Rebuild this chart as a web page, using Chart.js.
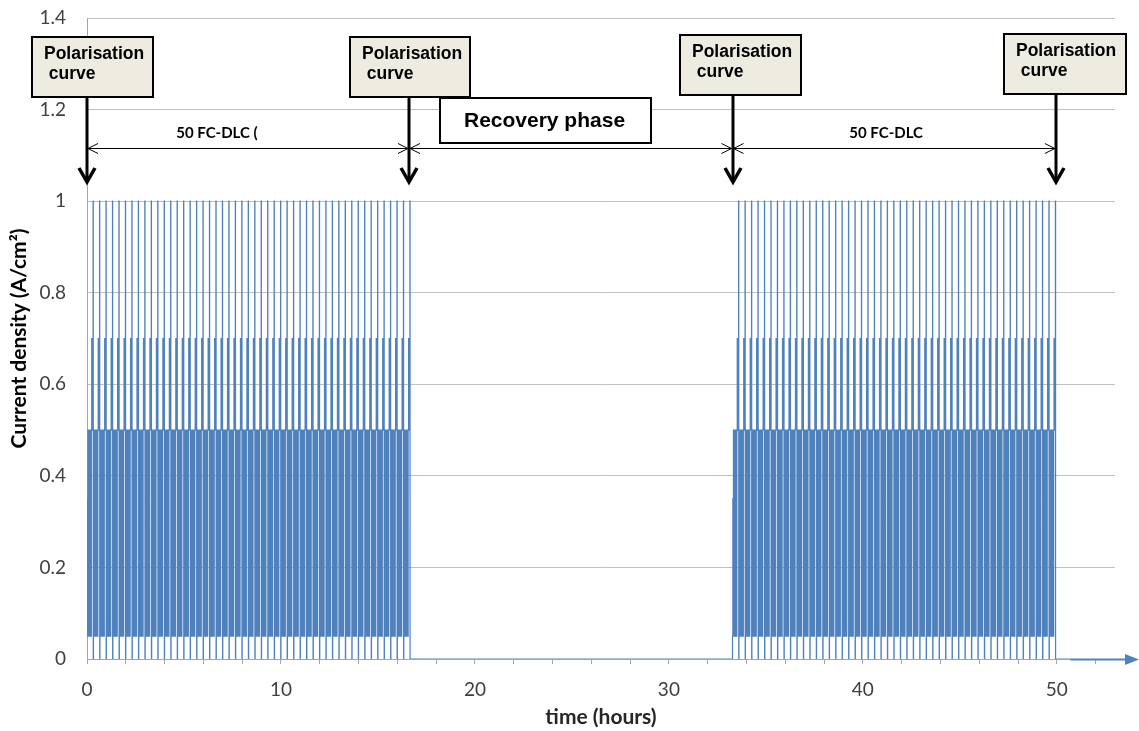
<!DOCTYPE html>
<html>
<head>
<meta charset="utf-8">
<script src="https://cdn.jsdelivr.net/npm/chart.js@4/dist/chart.umd.min.js"></script>
<style>
  html, body { margin: 0; padding: 0; background: #ffffff; }
  #c { display: block; }
</style>
</head>
<body>
<canvas id="c" width="1139" height="731"></canvas>
<script>
// ---------------- data ----------------
// One FC-DLC load cycle (20 min): step durations (s) and current density levels (A/cm2)
const cycleStepSeconds = [60, 50, 60, 40, 60, 50, 60, 40, 60, 50, 60, 40, 60, 50, 70, 70, 90, 40, 120, 30, 30];
const cycleStepLevels  = [0.05, 0.35, 0.05, 0.5, 0.05, 0.5, 0.05, 0.3, 0.05, 0.5, 0.05, 0.5, 0.05, 0.35, 0.05, 0.5, 0.7, 0.5, 0.7, 1.0, 0];
const cycleHours = 1 / 3;
const cyclesPerBlock = 50;
const blockStartHours = [0, 33.28];          // start of the two FC-DLC blocks
const tailEndHours = 50.7;                   // OCV after last block
const markerHours = [0, 16.6, 33.28, 49.95]; // polarisation curves
const phaseLabels = ['50 FC-DLC (', 'Recovery phase', '50 FC-DLC'];
const boxLabel = ['Polarisation', ' curve'];
const xLabelEvery = 10;
const xTickStep = 2;
const yTickStep = 0.2;

// ---------------- build points ----------------
const points = [];
blockStartHours.forEach((start) => {
  for (let c = 0; c < cyclesPerBlock; c++) {
    let t = start + c * cycleHours;
    for (let i = 0; i < cycleStepSeconds.length; i++) {
      points.push({ x: t, y: cycleStepLevels[i] });
      t += cycleStepSeconds[i] / 3600;
    }
  }
  points.push({ x: start + cyclesPerBlock * cycleHours, y: 0 });
});
points.push({ x: tailEndHours, y: 0 });

const xTickFont = { family: 'Lato, "Liberation Sans", sans-serif', size: 19 };
const yTickFont = { family: 'Lato, "Liberation Sans", sans-serif', size: 19, lineHeight: 0.5 };
const titleFont = { family: 'Lato, "Liberation Sans", sans-serif', size: 21, weight: 'bold' };

const annot = {
  id: 'annot',
  afterDatasetsDraw(chart) {
    const { ctx, scales: { x, y } } = chart;
    ctx.save();
    // blue arrow on x axis
    const ay = Math.round(y.getPixelForValue(0)) + 0.5;
    const ax0 = x.getPixelForValue(tailEndHours);
    ctx.strokeStyle = '#4F81BD'; ctx.fillStyle = '#4F81BD'; ctx.lineWidth = 2;
    ctx.beginPath(); ctx.moveTo(ax0, ay); ctx.lineTo(1128, ay); ctx.stroke();
    ctx.beginPath(); ctx.moveTo(1125, ay - 5.5); ctx.lineTo(1139, ay); ctx.lineTo(1125, ay + 5.5); ctx.closePath(); ctx.fill();

    const mx = markerHours.map(h => x.getPixelForValue(h));
    // thin double arrows
    const dy = Math.round(y.getPixelForValue(1.115)) + 0.5;
    ctx.strokeStyle = '#000'; ctx.lineWidth = 1;
    for (let i = 0; i < 3; i++) {
      const x1 = mx[i], x2 = mx[i + 1];
      ctx.beginPath(); ctx.moveTo(x1, dy); ctx.lineTo(x2, dy); ctx.stroke();
      ctx.beginPath();
      ctx.moveTo(x1 + 11, dy - 5); ctx.lineTo(x1 + 1, dy); ctx.lineTo(x1 + 11, dy + 5);
      ctx.moveTo(x2 - 11, dy - 5); ctx.lineTo(x2 - 1, dy); ctx.lineTo(x2 - 11, dy + 5);
      ctx.stroke();
    }
    // phase labels
    ctx.fillStyle = '#000'; ctx.textAlign = 'center'; ctx.textBaseline = 'middle';
    ctx.font = 'bold 15px Lato, "Liberation Sans", sans-serif';
    ctx.fillText(phaseLabels[0], x.getPixelForValue(6.7), y.getPixelForValue(1.148));
    ctx.fillText(phaseLabels[2], x.getPixelForValue(41.2), y.getPixelForValue(1.148));
    // recovery box
    const rx = x.getPixelForValue(18.2), ry = 98, rw = 211, rh = 45;
    ctx.fillStyle = '#fff'; ctx.fillRect(rx, ry, rw, rh);
    ctx.lineWidth = 2; ctx.strokeRect(rx, ry, rw, rh);
    ctx.fillStyle = '#000';
    ctx.font = 'bold 21px "Liberation Sans", Arial, sans-serif';
    ctx.fillText(phaseLabels[1], rx + rw / 2 - 1, ry + rh / 2 + 1);

    // polarisation boxes and thick arrows
    const offs = [-55, -59, -53, -52];
    const tops = [37, 37, 35, 34];
    const widths = [121, 120, 121, 122];
    const bh = 60, tipY = 183;
    for (let i = 0; i < 4; i++) {
      const px = Math.round(mx[i]);
      ctx.strokeStyle = '#000'; ctx.lineWidth = 3;
      ctx.beginPath(); ctx.moveTo(px, tops[i] + bh); ctx.lineTo(px, tipY - 2); ctx.stroke();
      ctx.lineWidth = 3.5; ctx.lineJoin = 'miter';
      ctx.beginPath(); ctx.moveTo(px - 8, tipY - 15); ctx.lineTo(px, tipY - 1); ctx.lineTo(px + 8, tipY - 15); ctx.stroke();
      const bx = px + offs[i];
      ctx.fillStyle = '#EEECE1'; ctx.fillRect(bx, tops[i], widths[i], bh);
      ctx.lineWidth = 2; ctx.strokeRect(bx, tops[i], widths[i], bh);
      ctx.fillStyle = '#000'; ctx.textAlign = 'left';
      ctx.font = 'bold 17.5px "Liberation Sans", Arial, sans-serif';
      ctx.fillText(boxLabel[0], bx + 12, tops[i] + 17);
      ctx.fillText(boxLabel[1], bx + 12, tops[i] + 37);
      ctx.textAlign = 'center';
    }
    ctx.restore();
  }
};

new Chart(document.getElementById('c'), {
  type: 'line',
  data: {
    datasets: [{
      data: points,
      borderColor: '#4F81BD',
      borderWidth: 1.2,
      pointRadius: 0,
      stepped: true,
      fill: false
    }]
  },
  options: {
    responsive: false,
    animation: false,
    events: [],
    layout: { padding: { top: 18, right: 24, left: 0, bottom: 0 } },
    plugins: { legend: { display: false }, tooltip: { enabled: false } },
    scales: {
      x: {
        type: 'linear', min: 0, max: 53,
        afterFit: a => { a.height = 72; a.paddingLeft = 0; a.paddingRight = 0; },
        ticks: {
          stepSize: xTickStep, includeBounds: false, autoSkip: false, maxRotation: 0,
          color: '#404040', font: xTickFont, padding: 14,
          callback: v => (v % xLabelEvery === 0 ? String(v) : '')
        },
        grid: { drawOnChartArea: false, drawTicks: true, tickLength: 5, color: '#a6a6a6' },
        border: { color: '#a6a6a6' },
        title: { display: true, text: 'time (hours)', color: '#262626', font: titleFont, padding: { top: 1, bottom: 1 } }
      },
      y: {
        min: 0, max: 1.4,
        afterFit: a => { a.width = 87; a.paddingTop = 0; a.paddingBottom = 0; },
        ticks: {
          stepSize: yTickStep, color: '#404040', font: yTickFont, padding: 21,
          callback: v => String(+v.toFixed(1))
        },
        grid: { drawTicks: false, color: '#bfbfbf' },
        border: { color: '#a6a6a6' },
        title: { display: true, text: 'Current density (A/cm²)', color: '#000', font: titleFont, padding: { top: 7, bottom: 7 } }
      }
    }
  },
  plugins: [annot]
});
</script>
</body>
</html>
